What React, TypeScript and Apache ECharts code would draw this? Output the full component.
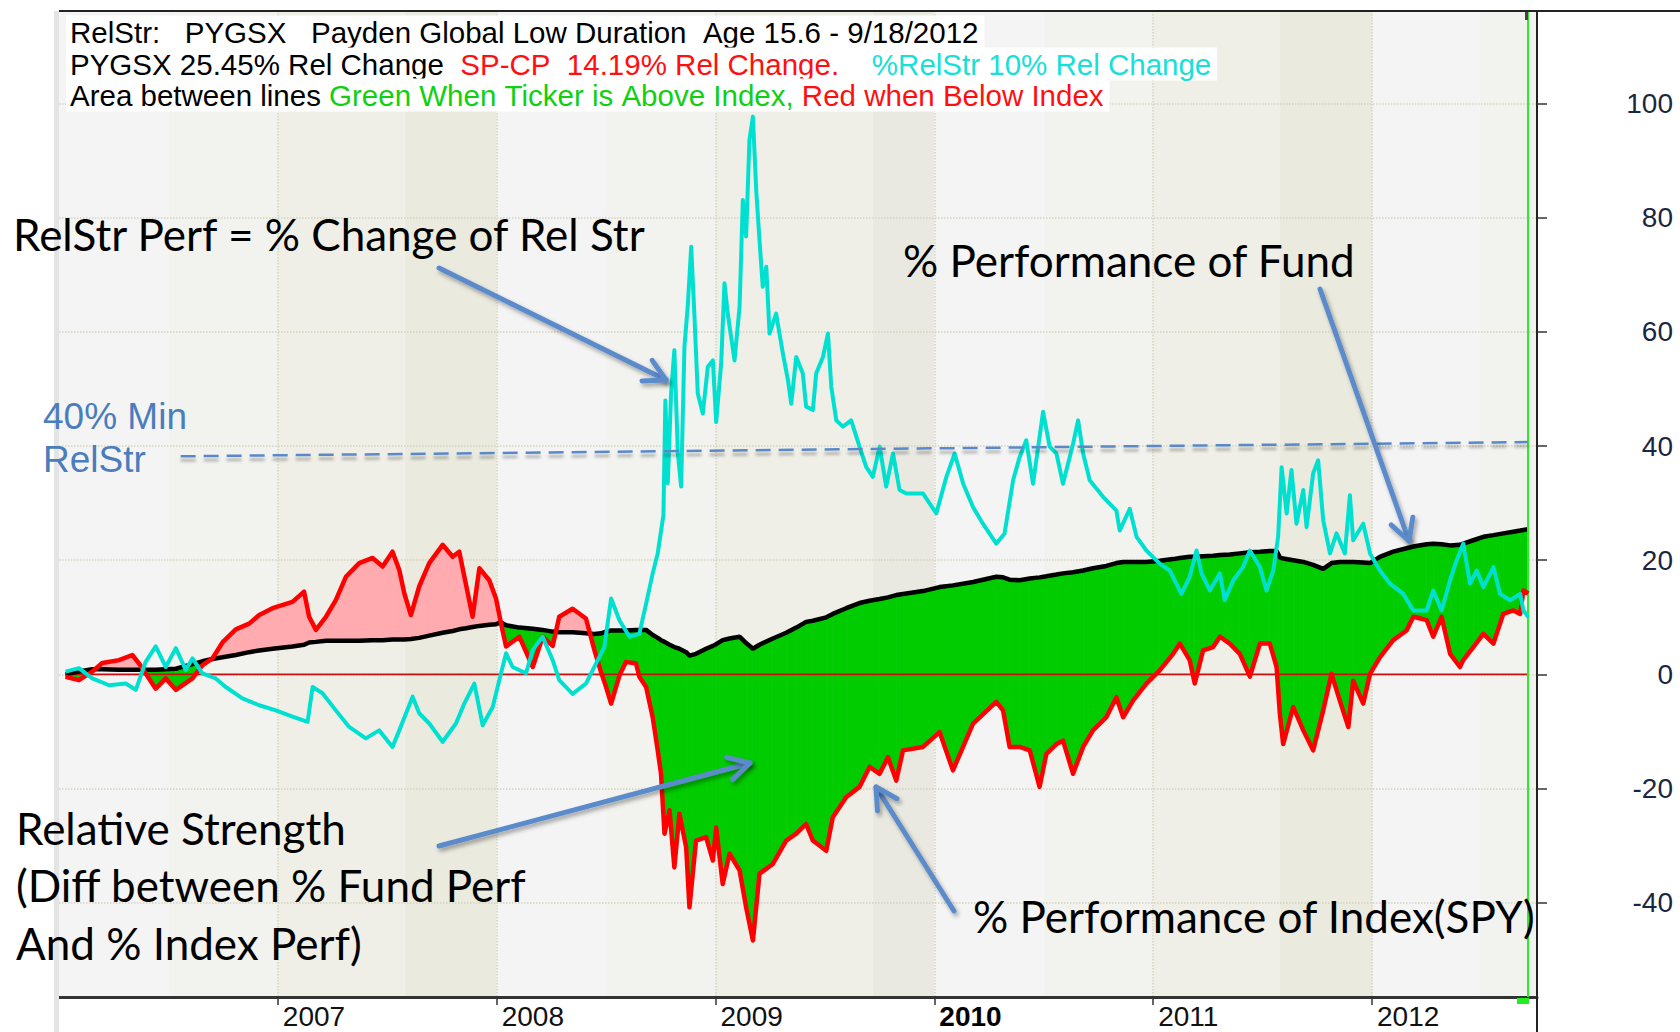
import React, { useEffect, useRef } from "react";
import * as echarts from "echarts";

// ---------------- DATA ----------------
// shared time axis (fractional years) for fund and index performance
const tFI = [
  2006.03, 2006.091, 2006.152, 2006.198, 2006.274, 2006.335, 2006.366, 2006.442, 2006.488, 2006.534, 2006.61, 2006.655, 2006.701, 2006.747, 2006.808, 2006.869, 2006.915, 2006.976,
  2007.067, 2007.12, 2007.143, 2007.174, 2007.22, 2007.265, 2007.311, 2007.372, 2007.433, 2007.479, 2007.524, 2007.555, 2007.578, 2007.608, 2007.646, 2007.692, 2007.753, 2007.799, 2007.829, 2007.86, 2007.89, 2007.921, 2007.966, 2007.997,
  2008.02, 2008.043, 2008.104, 2008.165, 2008.21, 2008.256, 2008.286, 2008.347, 2008.408, 2008.447, 2008.477, 2008.5, 2008.523, 2008.561, 2008.591, 2008.637, 2008.652, 2008.683, 2008.713, 2008.736, 2008.751, 2008.767, 2008.79, 2008.812, 2008.835, 2008.866, 2008.881, 2008.911, 2008.957, 2008.988,
  2009.003, 2009.033, 2009.064, 2009.11, 2009.14, 2009.171, 2009.201, 2009.262, 2009.323, 2009.369, 2009.414, 2009.445, 2009.506, 2009.536, 2009.597, 2009.658, 2009.704, 2009.75, 2009.788, 2009.826, 2009.857, 2009.948,
  2010.024, 2010.085, 2010.177, 2010.283, 2010.314, 2010.344, 2010.39, 2010.436, 2010.481, 2010.512, 2010.558, 2010.588, 2010.634, 2010.68, 2010.725, 2010.786, 2010.832, 2010.863, 2010.908, 2010.969,
  2011.03, 2011.091, 2011.122, 2011.167, 2011.19, 2011.228, 2011.274, 2011.305, 2011.35, 2011.396, 2011.442, 2011.488, 2011.533, 2011.564, 2011.579, 2011.594, 2011.64, 2011.686, 2011.731, 2011.777, 2011.815, 2011.853, 2011.892, 2011.914, 2011.96, 2011.991,
  2012.036, 2012.097, 2012.158, 2012.189, 2012.25, 2012.28, 2012.318, 2012.357, 2012.402, 2012.417, 2012.463, 2012.509, 2012.555, 2012.6, 2012.646, 2012.677, 2012.692, 2012.715,
];
// % performance of fund (PYGSX) - black line
const fundPct = [
  0.0, 0.5, 0.9, 0.9, 0.8, 0.8, 0.8, 0.8, 0.9, 1.0, 1.8, 2.3, 2.7, 3.0, 3.4, 3.9, 4.2, 4.5,
  4.9, 5.2, 5.6, 5.7, 5.9, 5.9, 5.9, 5.9, 6.0, 6.0, 6.1, 6.1, 6.1, 6.2, 6.4, 6.8, 7.3, 7.6, 7.9, 8.1, 8.3, 8.5, 8.7, 8.8,
  9.1, 8.6, 8.2, 8.0, 7.8, 7.5, 7.4, 7.4, 7.2, 7.1, 7.2, 7.5, 7.7, 7.7, 7.7, 7.8, 7.8, 7.8, 6.9, 6.4, 6.0, 5.7, 5.2, 4.8, 4.5, 3.9, 3.3, 3.6, 4.5, 5.0,
  5.3, 6.0, 6.3, 6.6, 5.5, 4.5, 5.2, 6.3, 7.3, 8.2, 9.2, 9.4, 10.0, 10.6, 11.6, 12.5, 12.9, 13.2, 13.5, 13.9, 14.1, 14.6,
  15.3, 15.6, 16.2, 17.1, 17.0, 16.6, 16.5, 16.8, 17.0, 17.2, 17.5, 17.7, 17.9, 18.2, 18.6, 19.0, 19.5, 19.7, 19.7, 19.7,
  19.9, 20.2, 20.4, 20.6, 20.6, 20.7, 20.8, 20.9, 21.0, 21.2, 21.4, 21.5, 21.6, 21.6, 20.5, 20.3, 20.0, 19.7, 19.2, 18.5, 19.5, 19.7, 19.7, 19.7, 19.6, 19.5,
  20.6, 21.5, 22.1, 22.4, 22.8, 22.9, 22.8, 22.6, 22.7, 22.9, 23.5, 24.1, 24.4, 24.7, 25.0, 25.2, 25.3, 25.45,
];
// % performance of index (SP-CP) - red line
const indexPct = [
  -0.4, -1.0, 0.5, 2.0, 2.5, 3.4, 1.9, -2.5, -0.7, -2.7, -0.7, 1.6, 2.8, 5.6, 7.9, 8.9, 10.4, 11.6,
  12.7, 14.5, 10.1, 7.8, 10.1, 13.0, 17.1, 19.5, 20.4, 18.9, 21.5, 18.3, 14.2, 10.4, 15.4, 19.5, 22.7, 20.6, 21.5, 15.7, 10.1, 18.6, 16.5, 13.3,
  8.9, 4.9, 6.6, 1.3, 6.6, 5.0, 10.1, 11.5, 9.8, 4.2, 0.4, -2.2, -5.1, -0.2, 2.2, 1.9, -0.4, -2.2, -7.5, -13.3, -17.4, -27.9, -23.8, -33.8, -24.4, -30.3, -40.8, -29.1, -28.5, -32.6,
  -26.8, -36.7, -31.4, -34.3, -40.8, -46.6, -34.9, -33.2, -29.1, -27.9, -26.2, -29.1, -30.9, -25.0, -21.5, -19.7, -16.2, -17.4, -14.5, -18.6, -13.3, -12.7,
  -10.1, -16.8, -8.6, -4.8, -6.3, -12.7, -12.7, -13.3, -19.7, -13.9, -12.2, -11.6, -17.4, -12.7, -9.8, -7.5, -4.0, -7.5, -4.6, -1.6,
  0.7, 3.6, 5.4, 2.5, -1.6, 4.2, 4.8, 6.6, 5.4, 3.6, -0.4, 5.4, 5.4, 1.3, -6.9, -12.2, -5.7, -9.8, -13.3, -6.3, 0.1, -4.6, -9.2, -1.1, -5.1, 0.1,
  3.0, 6.0, 7.7, 10.1, 9.5, 6.6, 10.1, 3.6, 1.3, 2.5, 4.8, 7.1, 5.4, 10.6, 11.2, 10.6, 14.7, 14.19,
];
// % change of relative strength - cyan line
const tRS = [
  2006.03, 2006.091, 2006.152, 2006.229, 2006.305, 2006.351, 2006.396, 2006.442, 2006.488, 2006.534, 2006.579, 2006.61, 2006.655, 2006.716, 2006.762, 2006.838, 2006.915, 2006.991,
  2007.067, 2007.136, 2007.159, 2007.204, 2007.265, 2007.326, 2007.402, 2007.463, 2007.524, 2007.555, 2007.616, 2007.646, 2007.692, 2007.753, 2007.814, 2007.852, 2007.898, 2007.936, 2007.982,
  2008.012, 2008.043, 2008.073, 2008.134, 2008.165, 2008.21, 2008.256, 2008.286, 2008.347, 2008.408, 2008.454, 2008.492, 2008.523, 2008.561, 2008.607, 2008.652, 2008.683, 2008.713, 2008.736, 2008.762, 2008.771, 2008.782, 2008.797, 2008.812, 2008.828, 2008.843, 2008.858, 2008.873, 2008.889, 2008.904, 2008.919, 2008.942, 2008.965, 2008.988,
  2009.003, 2009.026, 2009.041, 2009.056, 2009.087, 2009.11, 2009.125, 2009.14, 2009.155, 2009.171, 2009.186, 2009.201, 2009.216, 2009.232, 2009.247, 2009.277, 2009.308, 2009.331, 2009.346, 2009.369, 2009.399, 2009.414, 2009.445, 2009.46, 2009.491, 2009.514, 2009.529, 2009.552, 2009.582, 2009.62, 2009.658, 2009.689, 2009.719, 2009.75, 2009.78, 2009.811, 2009.841, 2009.872, 2009.948,
  2010.009, 2010.055, 2010.093, 2010.131, 2010.177, 2010.222, 2010.283, 2010.321, 2010.36, 2010.39, 2010.42, 2010.451, 2010.497, 2010.527, 2010.558, 2010.588, 2010.634, 2010.657, 2010.68, 2010.71, 2010.771, 2010.832, 2010.847, 2010.893, 2010.924, 2010.969,
  2011.03, 2011.076, 2011.129, 2011.167, 2011.198, 2011.221, 2011.259, 2011.305, 2011.327, 2011.366, 2011.411, 2011.442, 2011.488, 2011.518, 2011.549, 2011.571, 2011.587, 2011.61, 2011.632, 2011.655, 2011.686, 2011.701, 2011.731, 2011.754, 2011.777, 2011.808, 2011.838, 2011.876, 2011.899, 2011.914, 2011.96, 2011.991,
  2012.036, 2012.082, 2012.143, 2012.189, 2012.25, 2012.28, 2012.318, 2012.357, 2012.387, 2012.417, 2012.448, 2012.479, 2012.509, 2012.555, 2012.585, 2012.631, 2012.677, 2012.692, 2012.715,
];
const relStrPct = [
  0.5, 1.1, -0.7, -1.9, -1.6, -2.7, 2.2, 4.9, 1.3, 4.6, 0.8, 2.8, 0.2, -0.7, -2.2, -4.2, -5.4, -6.3,
  -7.4, -8.3, -2.2, -3.3, -6.3, -9.2, -11.2, -9.8, -12.7, -9.8, -3.9, -6.8, -8.6, -11.8, -8.6, -5.1, -1.6, -8.9, -5.7,
  -1.0, 3.7, 1.3, 0.2, 4.3, 6.6, 2.5, -1.0, -3.4, -1.6, 1.9, 4.8, 13.3, 9.5, 6.6, 7.1, 12.4, 17.7, 21.2, 27.9, 48.0, 33.5, 49.2, 56.8, 38.7, 32.9, 57.4, 64.4, 74.9, 62.6, 49.2, 45.7, 53.9, 55.0,
  44.2, 54.5, 68.5, 63.2, 55.0, 64.4, 83.1, 76.7, 93.6, 97.7, 84.8, 76.1, 67.9, 71.4, 59.7, 63.2, 56.2, 51.6, 47.4, 55.6, 52.7, 46.9, 46.3, 52.7, 55.6, 59.7, 50.4, 44.5, 43.4, 44.5, 39.9, 36.3, 34.6, 39.9, 32.9, 38.7, 32.3, 31.7, 31.7,
  28.2, 34.6, 38.7, 33.5, 29.3, 26.4, 22.9, 24.7, 34.0, 38.1, 41.0, 33.4, 46.0, 39.9, 38.7, 33.4, 40.4, 44.5, 38.7, 34.0, 31.1, 28.7, 25.2, 29.0, 24.1, 21.7,
  19.4, 18.2, 14.1, 17.1, 21.7, 17.7, 14.7, 17.7, 13.0, 16.5, 18.8, 21.7, 18.8, 14.7, 18.2, 24.1, 36.3, 28.2, 35.8, 26.4, 32.3, 25.8, 35.2, 37.5, 27.0, 21.2, 24.7, 21.2, 31.4, 23.5, 26.4, 21.2,
  18.2, 15.9, 14.1, 11.2, 11.2, 14.7, 11.2, 16.5, 20.0, 22.9, 15.9, 18.2, 15.3, 18.8, 14.1, 13.0, 14.1, 11.2, 10.0,
];
// hand-drawn "40% Min RelStr" guide line
const minRelStrT = [2006.556, 2012.712];
const minRelStrV = [38.2, 40.7];
// axes
const yearTicks = [2007, 2008, 2009, 2010, 2011, 2012];
const valueTicks = [-40, -20, 0, 20, 40, 60, 80, 100];
// background period bands
const bandEdges = [2006.0, 2006.5, 2007.0, 2007.58, 2008.0, 2008.5, 2009.0, 2009.72, 2010.0, 2010.5, 2011.0, 2011.58, 2012.0, 2012.49, 2012.754];

// ---------------- STYLE ----------------
const bandColors = [
  "#f4f4f4", "#f2f2ee", "#efefe7", "#eaeadf",
  "#f4f4f4", "#f2f2ee", "#efefe7", "#e9e9e1",
  "#f4f4f4", "#f2f2ee", "#efefe7", "#eaeadf",
  "#f4f4f4", "#f2f2ee",
];
const SANS = "'Liberation Sans', Arial, Helvetica, sans-serif";
const ANNOT = "Lato, 'Open Sans', sans-serif";
const ARROW = "#5b8bcb";
const GREEN = "#00cc00";
const PINK = "#ffabb0";
const CYAN = "#00e0d0";
const HDR = 29.5;
const NB = (s: string) => s.replace(/ /g, "\u00a0");

function arrow(x1: number, y1: number, x2: number, y2: number) {
  const ang = Math.atan2(y2 - y1, x2 - x1);
  const L = 24;
  const A = 0.5;
  const w1 = [x2 - L * Math.cos(ang - A), y2 - L * Math.sin(ang - A)];
  const w2 = [x2 - L * Math.cos(ang + A), y2 - L * Math.sin(ang + A)];
  const sh = { shadowColor: "rgba(0,0,0,0.35)", shadowBlur: 4, shadowOffsetX: 2, shadowOffsetY: 3 };
  return [
    { type: "line", z: 120, shape: { x1, y1, x2, y2 }, style: { stroke: ARROW, lineWidth: 5, lineCap: "round", ...sh } },
    { type: "polyline", z: 120, shape: { points: [w1, [x2, y2], w2] }, style: { stroke: ARROW, lineWidth: 5, lineCap: "round", lineJoin: "round", fill: null, ...sh } },
  ];
}

function annot(text: string, x: number, y: number, size = 44, color = "#000", family = ANNOT) {
  return {
    type: "text",
    z: 120,
    x,
    y,
    style: { text, fontSize: size, fontFamily: family, fill: color, align: "left", verticalAlign: "middle" },
  };
}

export default function App() {
  const ref = useRef<HTMLDivElement>(null);

  useEffect(() => {
    document.body.style.margin = "0";
    const chart = echarts.init(ref.current as HTMLDivElement, undefined, { renderer: "svg" });

    const last = tFI.length - 1;
    const fundData = tFI.map((t, i) => [t, fundPct[i]]);
    const indexData = tFI.map((t, i) => [t, indexPct[i]]);
    const relData = tRS.map((t, i) => [t, relStrPct[i]]);
    const fillData = tFI.slice(0, -1).map((t, i) => [t, fundPct[i], indexPct[i], tFI[i + 1], fundPct[i + 1], indexPct[i + 1]]);
    const bandData = bandColors.map((c, i) => [
      { xAxis: bandEdges[i], itemStyle: { color: c } },
      { xAxis: bandEdges[i + 1] },
    ]);

    const hdr = (y: number, text: string) => ({
      type: "text",
      z: 110,
      x: 66,
      y,
      style: {
        text,
        fontSize: HDR,
        fontFamily: SANS,
        fill: "#000",
        align: "left",
        verticalAlign: "middle",
        backgroundColor: "#ffffff",
        padding: [2, 6, 1, 4],
        rich: {
          k: { fill: "#000", fontSize: HDR, fontFamily: SANS },
          r: { fill: "#ff1010", fontSize: HDR, fontFamily: SANS },
          g: { fill: "#10d010", fontSize: HDR, fontFamily: SANS },
          c: { fill: "#18e0d8", fontSize: HDR, fontFamily: SANS },
        },
      },
    });

    const option: any = {
      animation: false,
      backgroundColor: "#ffffff",
      grid: { left: 59, right: 143, top: 11, bottom: 35, outerBoundsMode: "none" },
      xAxis: {
        type: "value",
        min: 2006,
        max: 2012.754,
        interval: 1,
        axisLine: { show: true, onZero: false, lineStyle: { color: "#333", width: 3 } },
        axisTick: { show: true, customValues: yearTicks, length: 8, lineStyle: { color: "#333", width: 1.5 } },
        axisLabel: {
          customValues: yearTicks,
          align: "left",
          margin: 5,
          padding: [0, 0, 0, 5],
          fontSize: 28,
          fontFamily: SANS,
          color: "#111",
          formatter: (v: number) => (v === 2010 ? "{b|2010}" : String(v)),
          rich: { b: { fontWeight: "bold", fontSize: 28, fontFamily: SANS, color: "#000" } },
        },
        splitLine: { show: true, lineStyle: { type: "dotted", color: "#d4d4be", width: 1.5 } },
      },
      yAxis: {
        type: "value",
        position: "right",
        min: -56.5,
        max: 116.2,
        splitNumber: 8,
        axisLine: { show: true, lineStyle: { color: "#222", width: 2 } },
        axisTick: { show: true, customValues: valueTicks, length: 10, lineStyle: { color: "#333", width: 1.5 } },
        axisLabel: { customValues: valueTicks, align: "right", margin: 136, fontSize: 28, fontFamily: SANS, color: "#1b2740" },
        splitLine: { show: true, lineStyle: { type: "dotted", color: "#d4d4be", width: 1.5 } },
      },
      series: [
        {
          name: "bands",
          type: "line",
          z: -1,
          silent: true,
          symbol: "none",
          data: [[2006, 0]],
          lineStyle: { opacity: 0 },
          markArea: { z: -1, silent: true, data: bandData },
        },
        {
          name: "fill",
          type: "custom",
          z: 2,
          silent: true,
          data: fillData,
          encode: { x: [0, 3], y: [1, 2, 4, 5] },
          renderItem: (_p: any, api: any) => {
            const t0 = api.value(0), b0 = api.value(1), r0 = api.value(2);
            const t1 = api.value(3), b1 = api.value(4), r1 = api.value(5);
            const d0 = b0 - r0, d1 = b1 - r1;
            const P = (t: number, v: number) => api.coord([t, v]);
            const poly = (pts: number[][], pos: boolean) => ({
              type: "polygon",
              shape: { points: pts },
              style: { fill: pos ? GREEN : PINK, stroke: pos ? GREEN : PINK, lineWidth: 0.8 },
            });
            const children: any[] = [];
            if (d0 * d1 >= 0) {
              children.push(poly([P(t0, b0), P(t1, b1), P(t1, r1), P(t0, r0)], d0 + d1 >= 0));
            } else {
              const f = d0 / (d0 - d1);
              const tc = t0 + f * (t1 - t0);
              const vc = b0 + f * (b1 - b0);
              children.push(poly([P(t0, b0), P(tc, vc), P(t0, r0)], d0 > 0));
              children.push(poly([P(tc, vc), P(t1, b1), P(t1, r1)], d1 > 0));
            }
            return { type: "group", children };
          },
        },
        {
          name: "zero",
          type: "line",
          z: 3,
          silent: true,
          symbol: "none",
          data: [[tFI[0], 0], [tFI[last], 0]],
          lineStyle: { color: "#cc1010", width: 1.6 },
          markLine: {
            silent: true,
            symbol: "none",
            label: { show: false },
            lineStyle: { color: "#2bee2b", width: 2, type: "solid" },
            data: [{ xAxis: tFI[last] }],
          },
        },
        {
          name: "PYGSX",
          type: "line",
          z: 4,
          symbol: "none",
          data: fundData,
          lineStyle: { color: "#000", width: 4.5 },
        },
        {
          name: "SP-CP",
          type: "line",
          z: 5,
          symbol: "none",
          data: indexData,
          lineStyle: { color: "#ff0000", width: 4.5, join: "round" },
        },
        {
          name: "%RelStr",
          type: "line",
          z: 6,
          symbol: "none",
          data: relData,
          lineStyle: { color: CYAN, width: 4, join: "round" },
        },
        {
          name: "40% Min RelStr",
          type: "line",
          z: 7,
          symbol: "none",
          data: minRelStrT.map((t, i) => [t, minRelStrV[i]]),
          lineStyle: {
            color: "#5a88c8",
            width: 2.5,
            type: [15, 8],
            shadowColor: "rgba(0,0,0,0.3)",
            shadowBlur: 3,
            shadowOffsetY: 4,
          },
        },
      ],
      graphic: [
        // frame pieces
        { type: "rect", z: 90, shape: { x: 54, y: 11, width: 5, height: 1021 }, style: { fill: "#e4e4e4" } },
        { type: "line", z: 90, shape: { x1: 59, y1: 11, x2: 1680, y2: 11 }, style: { stroke: "#222", lineWidth: 2 } },
        { type: "line", z: 90, shape: { x1: 1537, y1: 997, x2: 1537, y2: 1032 }, style: { stroke: "#222", lineWidth: 2 } },
        { type: "rect", z: 90, shape: { x: 1517, y: 998, width: 12, height: 6 }, style: { fill: "#22ee22" } },
        { type: "rect", z: 90, shape: { x: 1525, y: 12, width: 3, height: 8 }, style: { fill: "#6a2a5a" } },
        // header
        hdr(32, `{k|${NB("RelStr:   PYGSX   Payden Global Low Duration  Age 15.6 - 9/18/2012")}}`),
        hdr(64, `{k|${NB("PYGSX 25.45% Rel Change  ")}}{r|${NB("SP-CP  14.19% Rel Change.")}}{c|${NB("    %RelStr 10% Rel Change")}}`),
        hdr(95, `{k|${NB("Area between lines ")}}{g|${NB("Green When Ticker is Above Index,")}}{r|${NB(" Red when Below Index")}}`),
        // annotations
        annot("RelStr Perf = % Change of Rel Str", 13, 234),
        annot("% Performance of Fund", 903, 260),
        annot("40% Min", 43, 416, 37, "#4a7dbd", SANS),
        annot("RelStr", 43, 459, 37, "#4a7dbd", SANS),
        annot("Relative Strength", 16, 828),
        annot("(Diff between % Fund Perf", 16, 885),
        annot("And % Index Perf)", 16, 943),
        annot("% Performance of Index(SPY)", 973, 916),
        ...arrow(439, 268, 666, 380),
        ...arrow(1320, 289, 1409, 541),
        ...arrow(439, 846, 750, 763),
        ...arrow(954, 911, 876, 787),
      ],
    };

    chart.setOption(option);
    return () => chart.dispose();
  }, []);

  return (
    <div
      ref={ref}
      style={{ position: "absolute", left: 0, top: 0, width: 1680, height: 1032, background: "#fff" }}
    />
  );
}
